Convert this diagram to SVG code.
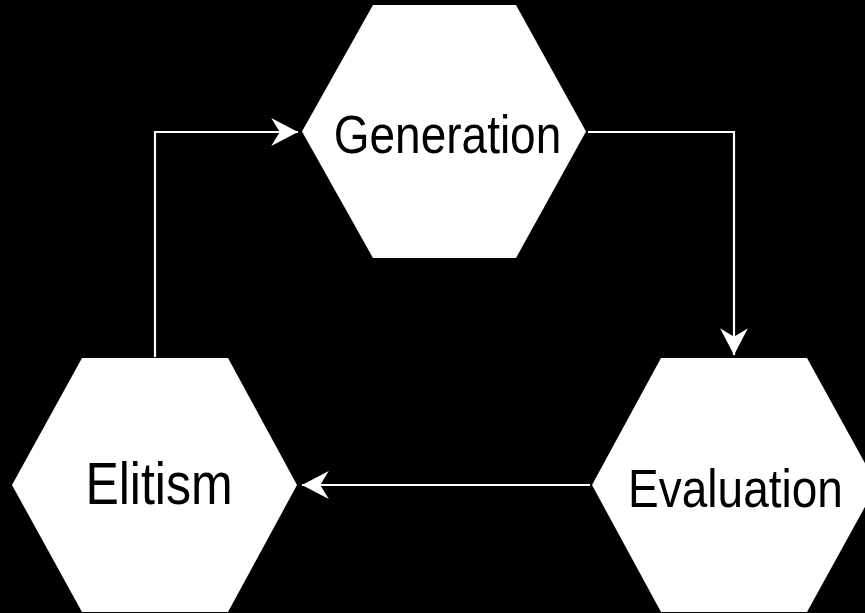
<svg xmlns="http://www.w3.org/2000/svg" width="865" height="613" viewBox="0 0 865 613">
  <style>
    .hex { fill: #ffffff; stroke: none; }
    .lbl { font-family: "Liberation Sans", Arial, sans-serif; fill: #000000; text-anchor: middle; }
    .edge { fill: none; stroke: #ffffff; stroke-width: 2.2; }
  </style>
  <defs>
    <marker id="arrow" markerUnits="userSpaceOnUse" markerWidth="30" markerHeight="30" viewBox="0 -14 26 28" refX="25" refY="0" orient="auto">
      <path d="M0,-13 L25,0 L0,13 L8,0 Z" fill="#ffffff"/>
    </marker>
  </defs>
  <rect x="0" y="0" width="865" height="613" fill="#000000"/>
  <g id="connectors">
    <path class="edge" d="M588,132 H734 V355" marker-end="url(#arrow)"/>
    <path class="edge" d="M155,357 V132 H298" marker-end="url(#arrow)"/>
    <path class="edge" d="M590,485 H302" marker-end="url(#arrow)"/>
  </g>
  <g id="generation">
    <polygon class="hex" points="302,131.5 373,5 516,5 586,131.5 516,258 373,258"/>
    <text class="lbl" font-size="46" transform="translate(447.5,152.5) scale(1,1.18)">Generation</text>
  </g>
  <g id="evaluation">
    <polygon class="hex" points="592,485 661,358 807,358 877,485 807,612 661,612"/>
    <text class="lbl" font-size="46" transform="translate(735.5,507) scale(1,1.18)">Evaluation</text>
  </g>
  <g id="elitism">
    <polygon class="hex" points="12,485 82,358 228,358 297,485 228,612 82,612"/>
    <text class="lbl" font-size="50" transform="translate(159,504) scale(1,1.17)">Elitism</text>
  </g>
</svg>
